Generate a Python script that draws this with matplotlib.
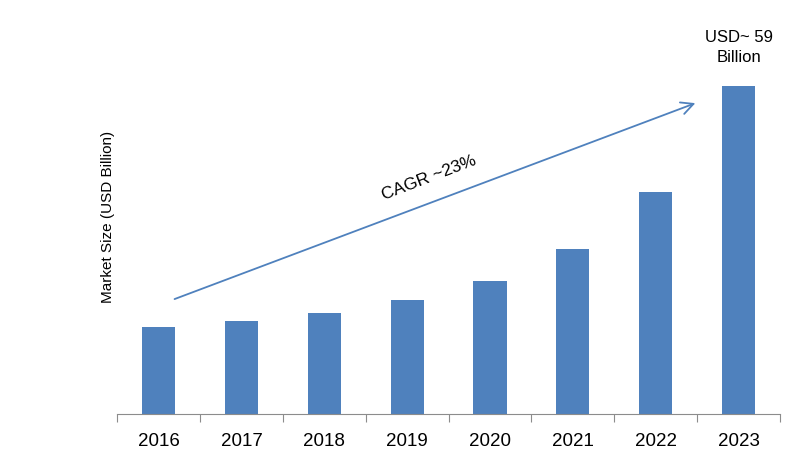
import matplotlib.pyplot as plt

# market size by year (USD billion)
years = ['2016', '2017', '2018', '2019', '2020', '2021', '2022', '2023']
market_size = [15.7, 16.7, 18.2, 20.5, 23.9, 29.7, 39.9, 59.0]

plt.rcParams['font.family'] = ['Liberation Sans', 'DejaVu Sans']

fig = plt.figure(figsize=(8, 4.62), dpi=100)
ax = fig.add_axes([0.1466, 0.1039, 0.8284, 0.853])

x = range(len(years))
ax.bar(x, market_size, width=0.4, color='#4F81BD')

ax.set_xlim(-0.5, len(years) - 0.5)
ax.set_ylim(0, 70.9)

# tick marks sit between categories, labels under each bar
ax.set_xticks([i - 0.5 for i in range(len(years) + 1)])
ax.set_xticklabels([])
ax.set_xticks(list(x), minor=True)
ax.set_xticklabels(years, minor=True, fontsize=13.5)
ax.tick_params(axis='x', which='major', length=6, color='#8c8c8c', direction='out')
ax.tick_params(axis='x', which='minor', length=0, pad=14)
ax.set_yticks([])

for side in ['top', 'right', 'left']:
    ax.spines[side].set_visible(False)
ax.spines['bottom'].set_color('#8c8c8c')

ax.set_ylabel('Market Size (USD Billion)', fontsize=11, labelpad=2)

# growth arrow and labels
ax.annotate('', xy=(6.51, 56.1), xytext=(0.16, 20.5),
            arrowprops=dict(arrowstyle='->', color='#4F81BD', lw=1.3,
                            mutation_scale=22))
ax.text(3.26, 42.5, 'CAGR ~23%', rotation=21, fontsize=12.5,
        ha='center', va='center')
ax.text(7, 65.9, 'USD~ 59\nBillion', fontsize=12, ha='center', va='center',
        linespacing=1.45)

fig.savefig('out.png', dpi=100)
